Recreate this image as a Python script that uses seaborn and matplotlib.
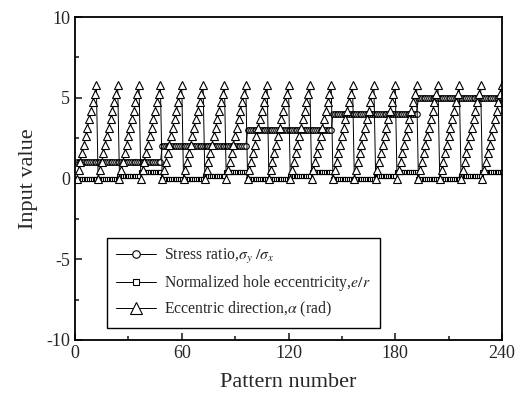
import numpy as np
import pandas as pd
import matplotlib
matplotlib.use("Agg")
import matplotlib.pyplot as plt
import seaborn as sns

# ---- data ----
stress_levels = [1, 2, 3, 4, 5]                 # sigma ratio per block of 48 patterns
ecc_levels = [0.0, 0.0, 0.15, 0.4]              # e/r per 12-pattern segment inside a block
alpha_cycle = [0.00, 0.52, 1.05, 1.57, 2.09, 2.62,
               3.14, 3.67, 4.19, 4.71, 5.24, 5.76]  # alpha (rad) within each segment

pattern = []
stress = []
ecc = []
alpha = []
n = 1
for s in stress_levels:
    for e in ecc_levels:
        for a in alpha_cycle:
            pattern.append(n)
            stress.append(s)
            ecc.append(e)
            alpha.append(a)
            n += 1

df = pd.DataFrame({"Pattern": pattern, "stress": stress, "ecc": ecc, "alpha": alpha})

sns.set_style("ticks")
plt.rcParams["font.family"] = ["Liberation Serif", "DejaVu Serif"]
plt.rcParams["mathtext.fontset"] = "stix"
plt.rcParams["axes.unicode_minus"] = False

fig = plt.figure(figsize=(5.17, 4.12), dpi=100)
ax = fig.add_axes([75/517, 1 - 340/412, (502 - 75)/517, (340 - 17)/412])

common = dict(color="black", linewidth=0.7, markerfacecolor="white",
              markeredgecolor="black", markeredgewidth=0.8, ax=ax)
sns.lineplot(data=df, x="Pattern", y="stress", marker="o", markersize=4,
             label=r"Stress ratio,$\sigma_y\ /\sigma_x$", **common)
sns.lineplot(data=df, x="Pattern", y="ecc", marker="s", markersize=3.5,
             label=r"Normalized hole eccentricity,$e/r$", **common)
sns.lineplot(data=df, x="Pattern", y="alpha", marker="^", markersize=6,
             label=r"Eccentric direction,$\alpha$ (rad)", **common)

ax.set_xlim(0, 240)
ax.set_ylim(-10, 10)
ax.set_xticks([0, 60, 120, 180, 240])
ax.set_xticks([30, 90, 150, 210], minor=True)
ax.set_yticks([-10, -5, 0, 5, 10])
ax.set_yticks([-7.5, -2.5, 2.5, 7.5], minor=True)
ax.tick_params(which="both", direction="in", labelsize=13, width=1.2)
ax.tick_params(which="major", length=5)
ax.tick_params(which="minor", length=3)
for sp in ax.spines.values():
    sp.set_linewidth(1.3)
    sp.set_color("black")

ax.set_xlabel("Pattern number", fontsize=16, labelpad=8)
ax.set_ylabel("Input value", fontsize=16, labelpad=6)

leg = ax.legend(loc="lower left", bbox_to_anchor=(0.075, 0.037), borderaxespad=0,
                fontsize=11.3, markerscale=1.35,
                frameon=True, fancybox=False, edgecolor="black", framealpha=1,
                handlelength=2.6, borderpad=0.55, labelspacing=0.45, handletextpad=0.5)
leg.get_frame().set_linewidth(1.0)

fig.savefig("out.png", dpi=100)
